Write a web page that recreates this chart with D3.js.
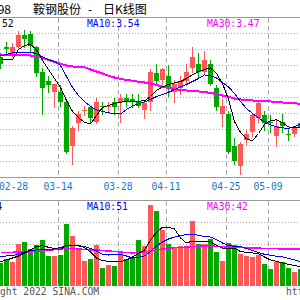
<!DOCTYPE html>
<html>
<head>
<meta charset="utf-8">
<script src="https://cdn.jsdelivr.net/npm/d3@7"></script>
<style>
  html, body { margin: 0; padding: 0; background: #fff; }
  svg { display: block; }
</style>
</head>
<body>
<div id="chart"></div>
<script>
// 000898 daily K-line, visible window 02-28 .. 05-16 (2022)
const dates = ["02-28","03-01","03-02","03-03","03-04","03-07","03-08","03-09","03-10","03-11",
  "03-14","03-15","03-16","03-17","03-18","03-21","03-22","03-23","03-24","03-25",
  "03-28","03-29","03-30","03-31","04-01","04-06","04-07","04-08","04-11","04-12",
  "04-13","04-14","04-15","04-18","04-19","04-20","04-21","04-22","04-25","04-26",
  "04-27","04-28","04-29","05-05","05-06","05-09","05-10","05-11","05-12","05-13","05-16"];

const open = [3.70,3.75,3.71,3.75,3.81,3.82,3.75,3.63,3.58,3.53,
  3.53,3.48,3.26,3.37,3.43,3.45,3.38,3.46,3.45,3.48,
  3.48,3.50,3.49,3.48,3.44,3.48,3.62,3.59,3.61,3.53,
  3.55,3.58,3.65,3.67,3.63,3.67,3.55,3.42,3.42,3.26,
  3.16,3.29,3.33,3.40,3.41,3.38,3.31,3.38,3.32,3.32,3.37];
const high = [3.72,3.78,3.77,3.83,3.84,3.83,3.76,3.65,3.61,3.57,
  3.56,3.49,3.36,3.43,3.46,3.46,3.50,3.48,3.48,3.50,
  3.52,3.52,3.52,3.52,3.48,3.64,3.67,3.65,3.66,3.59,
  3.61,3.67,3.75,3.72,3.73,3.69,3.56,3.49,3.43,3.30,
  3.28,3.34,3.42,3.48,3.43,3.41,3.39,3.42,3.35,3.36,3.38];
const low = [3.65,3.72,3.70,3.75,3.75,3.73,3.61,3.42,3.53,3.45,
  3.46,3.22,3.17,3.34,3.41,3.38,3.37,3.42,3.43,3.42,
  3.38,3.46,3.45,3.45,3.40,3.44,3.56,3.57,3.51,3.48,
  3.52,3.56,3.63,3.60,3.62,3.56,3.44,3.36,3.22,3.17,
  3.12,3.27,3.31,3.38,3.34,3.33,3.26,3.33,3.29,3.31,3.33];
const close = [3.67,3.74,3.75,3.81,3.79,3.76,3.62,3.55,3.56,3.57,
  3.48,3.23,3.35,3.42,3.44,3.40,3.48,3.45,3.46,3.45,
  3.50,3.48,3.48,3.46,3.47,3.63,3.58,3.64,3.54,3.57,
  3.58,3.63,3.70,3.63,3.69,3.57,3.45,3.46,3.23,3.18,
  3.27,3.32,3.41,3.47,3.37,3.37,3.36,3.36,3.32,3.35,3.35];

const ma5 = [3.690,3.690,3.690,3.740,3.760,3.765,3.740,3.685,3.640,3.595,
  3.550,3.485,3.430,3.400,3.375,3.368,3.410,3.450,3.460,3.470,
  3.477,3.479,3.480,3.482,3.483,3.505,3.535,3.553,3.565,3.573,
  3.580,3.595,3.613,3.630,3.640,3.648,3.620,3.570,3.490,3.380,
  3.325,3.293,3.283,3.320,3.365,3.385,3.388,3.375,3.353,3.348,3.350];
const ma10 = [3.708,3.715,3.723,3.725,3.727,3.727,3.718,3.703,3.690,3.680,
  3.660,3.605,3.550,3.510,3.480,3.455,3.438,3.430,3.424,3.418,
  3.418,3.440,3.458,3.468,3.478,3.490,3.505,3.515,3.525,3.540,
  3.553,3.565,3.580,3.595,3.613,3.608,3.598,3.575,3.553,3.520,
  3.480,3.445,3.420,3.398,3.378,3.363,3.353,3.348,3.345,3.355,3.368];
const ma30 = [3.715,3.714,3.713,3.712,3.711,3.710,3.705,3.698,3.688,3.678,
  3.668,3.660,3.655,3.654,3.651,3.640,3.630,3.620,3.609,3.600,
  3.593,3.588,3.584,3.579,3.575,3.570,3.563,3.553,3.548,3.542,
  3.538,3.535,3.532,3.530,3.527,3.523,3.517,3.510,3.503,3.495,
  3.490,3.487,3.485,3.483,3.482,3.480,3.477,3.475,3.473,3.471,3.468];

const volume = [25.6,30.2,27.4,47.4,49.7,41.8,46.3,52.0,33.9,33.9,
  35.0,70.0,56.5,41.8,28.2,30.5,46.3,20.7,23.7,22.6,
  36.9,30.5,33.1,52.0,45.2,91.5,85.0,63.2,47.4,42.6,
  45.2,44.4,73.4,47.4,47.4,53.1,38.7,28.2,48.2,46.3,
  35.8,33.9,33.1,35.0,24.8,19.2,27.4,27.4,20.7,16.2,19.2];
const volMa5 = [27.4,29.4,31.6,33.9,37.3,40.7,44.6,45.7,43.7,42.4,
  41.4,46.1,45.7,45.2,43.5,38.4,31.6,28.8,27.7,27.4,
  27.4,29.4,32.8,36.7,40.7,52.0,60.4,66.6,66.1,64.4,
  54.2,48.6,50.8,50.5,50.3,50.0,45.7,42.9,42.7,42.6,
  39.0,37.8,37.3,36.7,32.8,29.4,27.7,26.0,24.3,23.2,21.8];
const volMa10 = [33.1,33.9,34.4,36.1,38.4,40.1,40.7,40.7,40.7,41.8,
  43.5,45.7,46.1,45.7,44.6,42.4,39.5,35.6,35.0,35.6,
  35.8,33.9,31.6,32.2,33.9,39.0,45.2,49.7,53.1,55.3,
  57.0,57.9,58.4,57.3,55.9,55.3,52.5,48.6,45.7,44.8,
  44.4,42.4,40.1,37.8,35.8,34.7,33.5,32.8,31.1,29.4,27.4];
const volMa30 = [37.8,37.8,38.1,38.2,38.4,38.4,39.0,39.5,40.4,41.2,
  41.8,42.4,42.4,41.8,41.2,40.7,40.7,40.1,39.5,39.0,
  38.4,37.8,37.3,37.8,38.4,39.5,40.7,41.8,42.9,43.3,
  43.5,44.0,44.6,45.0,45.2,45.2,44.8,44.4,44.0,43.7,
  43.3,43.1,42.9,42.7,42.5,42.2,42.1,42.0,41.9,41.8,41.8];

const tickDates = ["02-28","03-14","03-28","04-11","04-25","05-09"];
const priceTicks = [3.18,3.26,3.34,3.42,3.50,3.58,3.66,3.74,3.82];
const volTicks = [48,72];

const width = 300, height = 300;
const red = "#ff5858", green = "#00a800";
const mono = "'DejaVu Sans Mono', monospace";

const svg = d3.select("#chart").append("svg")
  .attr("width", width).attr("height", height);

const x = d3.scalePoint().domain(dates).range([0, 300]);
const y = d3.scaleLinear().domain([3.10, 3.90]).range([177.5, 17.5]);
const yv = d3.scaleLinear().domain([0, 96]).range([286, 201]);
const cx = d => Math.round(x(d));

// frame lines
[17.5, 177.5, 200.5].forEach(ly => {
  svg.append("line").attr("x1", 0).attr("x2", width).attr("y1", ly).attr("y2", ly)
    .attr("stroke", "#999");
});

// dotted horizontal grid
svg.selectAll(".pgrid").data(priceTicks).join("line")
  .attr("x1", 0).attr("x2", width)
  .attr("y1", d => y(d)).attr("y2", d => y(d))
  .attr("stroke", "#aaa").attr("stroke-dasharray", "1,2");
svg.selectAll(".vgrid").data(volTicks).join("line")
  .attr("x1", 0).attr("x2", width)
  .attr("y1", d => Math.round(yv(d)) + 0.5).attr("y2", d => Math.round(yv(d)) + 0.5)
  .attr("stroke", "#aaa").attr("stroke-dasharray", "1,2");

// dashed date lines in both panels
tickDates.forEach(d => {
  const lx = cx(d) - 1.5;
  [[18, 177], [201, 286]].forEach(([a, b]) => {
    svg.append("line").attr("x1", lx).attr("x2", lx).attr("y1", a).attr("y2", b)
      .attr("stroke", "#aaa").attr("stroke-dasharray", "5,3");
  });
});

// candles
const isUp = i => close[i] > open[i];
const candles = svg.append("g").attr("shape-rendering", "crispEdges");
dates.forEach((d, i) => {
  const c = cx(d);
  const col = isUp(i) ? red : green;
  candles.append("line")
    .attr("x1", c + 0.5).attr("x2", c + 0.5)
    .attr("y1", Math.round(y(high[i]))).attr("y2", Math.round(y(low[i])) + 1)
    .attr("stroke", col);
  const top = Math.round(y(Math.max(open[i], close[i])));
  const bot = Math.round(y(Math.min(open[i], close[i])));
  candles.append("rect")
    .attr("x", c - 2).attr("width", 5)
    .attr("y", top).attr("height", Math.max(1, bot - top))
    .attr("fill", col);
});

// volume bars
svg.append("g").attr("shape-rendering", "crispEdges")
  .selectAll("rect").data(volume).join("rect")
  .attr("x", (v, i) => cx(dates[i]) - 2).attr("width", 5)
  .attr("y", v => Math.round(yv(v)))
  .attr("height", v => 286 - Math.round(yv(v)))
  .attr("fill", (v, i) => isUp(i) ? red : green);

// moving averages
function maLine(values, scale, color, w) {
  const line = d3.line().x((v, i) => x(dates[i]) + 0.5).y(v => scale(v));
  svg.append("path").datum(values)
    .attr("d", line).attr("fill", "none")
    .attr("stroke", color).attr("stroke-width", w)
    .attr("shape-rendering", "crispEdges");
}
maLine(ma30, y, "#ff00ff", 2);
maLine(ma10, y, "#0000ff", 1);
maLine(ma5, y, "#000000", 1);
maLine(volMa30, yv, "#ff00ff", 1.5);
maLine(volMa10, yv, "#0000ff", 1);
maLine(volMa5, yv, "#000000", 1);

// title, pieces spaced like the original
const title = svg.append("text").attr("y", 14)
  .attr("font-family", "'Noto Sans CJK SC', sans-serif").attr("font-size", "12px")
  .attr("fill", "#000");
title.append("tspan").attr("x", -29).text("000898");
title.append("tspan").attr("x", 33).text("鞍钢股份");
title.append("tspan").attr("x", 88).text("-");
title.append("tspan").attr("x", 103).text("日K线图");

// MA value labels
const maLabels = [
  { t: "MA5:3.52", c: "#000", x: -33, y: 27 },
  { t: "MA10:3.54", c: "#0000ff", x: 87, y: 27 },
  { t: "MA30:3.47", c: "#ff00ff", x: 207, y: 27 },
  { t: "MA5:44", c: "#000", x: -33, y: 210 },
  { t: "MA10:51", c: "#0000ff", x: 87, y: 210 },
  { t: "MA30:42", c: "#ff00ff", x: 207, y: 210 }
];
svg.selectAll(".malabel").data(maLabels).join("text")
  .attr("x", d => d.x).attr("y", d => d.y)
  .attr("font-family", mono).attr("font-size", "9.7px")
  .attr("fill", d => d.c).text(d => d.t);

// date labels
svg.selectAll(".date").data(tickDates).join("text")
  .attr("x", (d, i) => i === 0 ? -1 : cx(d) - 2)
  .attr("y", 190)
  .attr("text-anchor", (d, i) => i === 0 ? "start" : "middle")
  .attr("font-family", mono).attr("font-size", "9.7px")
  .attr("fill", "#1a78cc").text(d => d);

// footer
svg.append("text").attr("x", -35).attr("y", 295)
  .attr("font-family", mono).attr("font-size", "9.7px").attr("fill", "#555")
  .text("Copyright 2022 SINA.COM");
svg.append("text").attr("x", 286).attr("y", 295)
  .attr("font-family", mono).attr("font-size", "9.7px").attr("fill", "#555")
  .text("http://finance.sina.com.cn");
</script>
</body>
</html>
